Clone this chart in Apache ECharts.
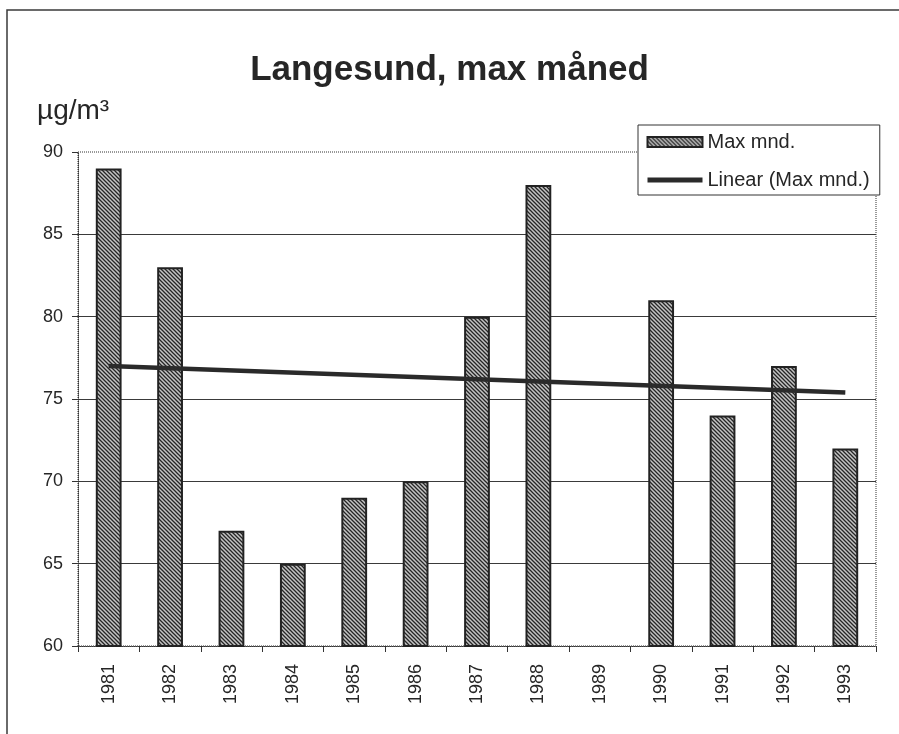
<!DOCTYPE html>
<html>
<head>
<meta charset="utf-8">
<title>Langesund, max måned</title>
<script src="https://cdn.jsdelivr.net/npm/echarts@6/dist/echarts.min.js"></script>
<style>
  html, body { margin: 0; padding: 0; background: #ffffff; }
  #chart { width: 899px; height: 734px; }
</style>
</head>
<body>
<div id="chart"></div>
<script>
// Monthly maximum per year (µg/m³); 1989 has no value
const years = ['1981', '1982', '1983', '1984', '1985', '1986', '1987', '1988', '1989', '1990', '1991', '1992', '1993'];
const maxMonth = [89, 83, 67, 65, 69, 70, 80, 88, null, 81, 74, 77, 72];
// Linear trend line, value at the first and last year
const trendEnds = [77.0, 75.4];
// Value axis ticks
const yMin = 60;
const yMax = 90;
const yStep = 5;

const FONT = '"Liberation Sans", Arial, Helvetica, sans-serif';
const INK = '#262626';
const TREND = '#2a2a2a';

// Plot area layout (pixels)
const G = { left: 78, top: 152, width: 798, height: 494 };

// Diagonal hatch fill for the bars
function hatch() {
  const c = document.createElement('canvas');
  c.width = 4; c.height = 4;
  const ctx = c.getContext('2d');
  ctx.fillStyle = '#c4c4c4';
  ctx.fillRect(0, 0, 4, 4);
  ctx.strokeStyle = '#262626';
  ctx.lineWidth = 1.3;
  ctx.beginPath();
  ctx.moveTo(-1, -1); ctx.lineTo(5, 5);
  ctx.moveTo(-1, 3); ctx.lineTo(1, 5);
  ctx.moveTo(3, -1); ctx.lineTo(5, 1);
  ctx.stroke();
  return c;
}
const hatchFill = { image: hatch(), repeat: 'repeat' };

const trendData = years.map((_, i) =>
  i === 0 ? trendEnds[0] : (i === years.length - 1 ? trendEnds[1] : null));

const chart = echarts.init(document.getElementById('chart'), null, { renderer: 'canvas' });

chart.setOption({
  animation: false,
  backgroundColor: '#ffffff',
  textStyle: { fontFamily: FONT, color: INK },
  title: {
    text: 'Langesund, max måned',
    left: 'center',
    top: 48,
    textStyle: { fontFamily: FONT, fontSize: 35, fontWeight: 'bold', color: INK }
  },
  legend: {
    orient: 'vertical',
    left: 638,
    top: 125,
    padding: [7, 10, 5, 7],
    itemGap: 18,
    itemWidth: 55,
    itemHeight: 10,
    backgroundColor: '#ffffff',
    borderColor: '#333333',
    borderWidth: 1,
    textStyle: { fontFamily: FONT, fontSize: 20, color: INK },
    data: [
      { name: 'Max mnd.', icon: 'rect' },
      {
        name: 'Linear (Max mnd.)',
        itemStyle: { opacity: 0 },
        lineStyle: { width: 5, color: TREND }
      }
    ]
  },
  grid: { left: G.left, top: G.top, width: G.width, height: G.height, containLabel: false },
  xAxis: {
    type: 'category',
    data: years,
    boundaryGap: true,
    axisLine: { show: true, lineStyle: { color: '#333333', width: 1, type: 'dotted' } },
    axisTick: { show: true, length: 6, lineStyle: { color: '#333333', width: 1 } },
    axisLabel: { rotate: 90, margin: 18, fontFamily: FONT, fontSize: 18, color: INK },
    splitLine: { show: false }
  },
  yAxis: {
    type: 'value',
    min: yMin,
    max: yMax,
    interval: yStep,
    axisLine: { show: true, lineStyle: { color: '#333333', width: 1, type: 'dotted' } },
    axisTick: { show: true, length: 6, lineStyle: { color: '#333333', width: 1 } },
    axisLabel: { margin: 15, fontFamily: FONT, fontSize: 18, color: INK },
    splitLine: {
      show: true,
      showMinLine: false,
      showMaxLine: false,
      lineStyle: { color: '#3a3a3a', width: 1 }
    }
  },
  graphic: [
    // frame round the chart
    {
      type: 'polyline',
      shape: { points: [[7, 734], [7, 10], [899, 10]] },
      style: { stroke: '#3a3a3a', lineWidth: 1.5, fill: null },
      silent: true
    },
    // dotted border of the plot area
    {
      type: 'rect',
      shape: { x: G.left, y: G.top, width: G.width, height: G.height },
      style: { stroke: '#333333', lineWidth: 1, lineDash: [1, 1], fill: null },
      silent: true,
      z: 1
    },
    // unit label above the value axis
    {
      type: 'text',
      left: 37,
      top: 97,
      style: { text: 'µg/m³', fontFamily: FONT, fontSize: 28, fill: INK },
      silent: true
    }
  ],
  series: [
    {
      name: 'Max mnd.',
      type: 'bar',
      data: maxMonth,
      barWidth: '42%',
      itemStyle: { color: hatchFill, borderColor: '#222222', borderWidth: 2 },
      z: 2
    },
    {
      name: 'Linear (Max mnd.)',
      type: 'line',
      data: trendData,
      connectNulls: true,
      symbol: 'none',
      itemStyle: { color: TREND },
      lineStyle: { color: TREND, width: 4.5 },
      z: 3
    }
  ]
});
</script>
</body>
</html>
